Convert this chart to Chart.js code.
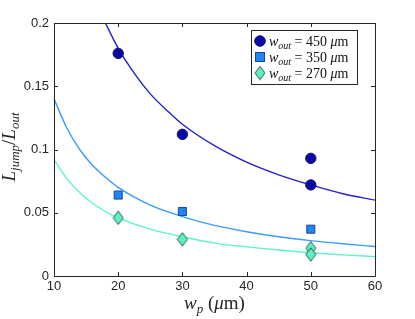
<!DOCTYPE html>
<html>
<head>
<meta charset="utf-8">
<script src="https://cdn.jsdelivr.net/npm/chart.js@4"></script>
<style>
html,body{margin:0;padding:0;background:#fff;}
#wrap{width:415px;height:319px;position:relative;}
</style>
</head>
<body>
<div id="wrap"><canvas id="c" width="415" height="319"></canvas></div>
<script>
// ---- data ----
const xTicks = [10, 20, 30, 40, 50, 60];
const yTicks = [0, 0.05, 0.1, 0.15, 0.2];

const wp450 = [20, 30, 50, 50];
const val450 = [0.176, 0.112, 0.093, 0.072];
const wp350 = [20, 30, 50];
const val350 = [0.064, 0.051, 0.037];
const wp270 = [20, 30, 50, 50];
const val270 = [0.046, 0.029, 0.022, 0.017];

const fitX450 = [18, 20, 22, 25, 28, 30, 35, 40, 45, 50, 55, 60];
const fitY450 = [0.2, 0.18, 0.164, 0.144, 0.129, 0.12, 0.103, 0.09, 0.08, 0.072, 0.065, 0.06];
const fitX350 = [10, 12, 14, 16, 18, 20, 25, 30, 35, 40, 45, 50, 55, 60];
const fitY350 = [0.14, 0.117, 0.1, 0.0875, 0.078, 0.07, 0.056, 0.047, 0.04, 0.035, 0.031, 0.028, 0.0255, 0.0233];
const fitX270 = [10, 12, 14, 16, 18, 20, 25, 30, 35, 40, 45, 50, 55, 60];
const fitY270 = [0.092, 0.077, 0.066, 0.0575, 0.051, 0.046, 0.037, 0.031, 0.026, 0.023, 0.0205, 0.0184, 0.0167, 0.0153];

const seriesLabels = ['450', '350', '270'];

function pts(xs, ys){ return xs.map((x,i)=>({x:x, y:ys[i]})); }

// diamond marker (taller than wide)
function makeDiamond(fill, stroke){
  const c = document.createElement('canvas');
  c.width = 12; c.height = 15;
  const g = c.getContext('2d');
  g.beginPath();
  g.moveTo(6, 0.8); g.lineTo(11, 7.5); g.lineTo(6, 14.2); g.lineTo(1, 7.5); g.closePath();
  g.fillStyle = fill; g.fill();
  g.lineWidth = 1; g.strokeStyle = stroke; g.stroke();
  return c;
}
const diamondImg = makeDiamond('#5cf2c2', '#2e5c52');

const C = {
  c450: '#0808a8', e450: '#10106a', l450: '#2222cc',
  c350: '#1e86f6', e350: '#1c4a86', l350: '#3a9cff',
  c270: '#5cf2c2', e270: '#2e5c52', l270: '#5cf5c9'
};

const PL = 54, PR = 375, PT = 23, PB = 276;

const boxPlugin = {
  id: 'boxPlugin',
  afterDatasetsDraw(chart){
    const ctx = chart.ctx, a = chart.chartArea;
    const xs = chart.scales.x, ys = chart.scales.y;
    ctx.save();
    ctx.strokeStyle = '#262626';
    ctx.lineWidth = 1;
    ctx.beginPath();
    ctx.rect(Math.round(a.left)+0.5, Math.round(a.top)+0.5, Math.round(a.right-a.left), Math.round(a.bottom-a.top));
    ctx.stroke();
    // inward ticks on all four sides
    const tl = 4;
    ctx.beginPath();
    xTicks.forEach(v=>{
      const px = Math.round(xs.getPixelForValue(v))+0.5;
      ctx.moveTo(px, a.bottom); ctx.lineTo(px, a.bottom - tl);
      ctx.moveTo(px, a.top); ctx.lineTo(px, a.top + tl);
    });
    yTicks.forEach(v=>{
      const py = Math.round(ys.getPixelForValue(v))+0.5;
      ctx.moveTo(a.left, py); ctx.lineTo(a.left + tl, py);
      ctx.moveTo(a.right, py); ctx.lineTo(a.right - tl, py);
    });
    ctx.stroke();
    ctx.restore();
  },
  afterDraw(chart){
    const ctx = chart.ctx, a = chart.chartArea;
    ctx.save();
    ctx.fillStyle = '#262626';
    ctx.textBaseline = 'alphabetic';
    const main = 'italic 19px "Liberation Serif", "DejaVu Serif", serif';
    const sub = 'italic 13px "Liberation Serif", "DejaVu Serif", serif';
    const up = '19px "Liberation Serif", "DejaVu Serif", serif';
    function runs(parts){
      let w = 0;
      parts.forEach(p=>{ ctx.font = p.f; w += ctx.measureText(p.t).width; });
      return w;
    }
    function drawRuns(parts, x, y){
      let cx = x;
      parts.forEach(p=>{ ctx.font = p.f; ctx.fillText(p.t, cx, y + (p.dy||0)); cx += ctx.measureText(p.t).width; });
    }
    // x axis title: w_p (μm)
    const xt = [{t:'w',f:main},{t:'p',f:sub,dy:4},{t:' (',f:up},{t:'μ',f:main},{t:'m)',f:up}];
    const xw = runs(xt);
    drawRuns(xt, (a.left + a.right)/2 - xw/2, 309);
    // y axis title: L_jump / L_out (rotated)
    const yt = [{t:'L',f:main},{t:'jump',f:sub,dy:4},{t:'/',f:up},{t:'L',f:main},{t:'out',f:sub,dy:4}];
    const yw = runs(yt);
    ctx.translate(15, 147);
    ctx.rotate(-Math.PI/2);
    drawRuns(yt, -yw/2, 0);
    ctx.setTransform(1,0,0,1,0,0);

    // legend
    const lx = 251, ly = 30, lw = 106, lh = 54;
    ctx.fillStyle = '#ffffff';
    ctx.fillRect(lx, ly, lw, lh);
    ctx.strokeStyle = '#262626';
    ctx.lineWidth = 1;
    ctx.strokeRect(lx+0.5, ly+0.5, lw, lh);
    const rows = [ly + 11, ly + 27, ly + 43];
    const lmain = 'italic 14px "Liberation Serif", "DejaVu Serif", serif';
    const lsub = 'italic 10px "Liberation Serif", "DejaVu Serif", serif';
    const lup = '14px "Liberation Serif", "DejaVu Serif", serif';
    let my = rows[0];
    ctx.beginPath(); ctx.arc(lx+9, my, 5.3, 0, Math.PI*2);
    ctx.fillStyle = C.c450; ctx.fill(); ctx.strokeStyle = C.e450; ctx.stroke();
    my = rows[1];
    ctx.fillStyle = C.c350; ctx.fillRect(lx+4.5, my-4.5, 9, 9);
    ctx.strokeStyle = C.e350; ctx.strokeRect(lx+4.5, my-4.5, 9, 9);
    my = rows[2];
    ctx.drawImage(diamondImg, lx+3, my-7.5);
    ctx.fillStyle = '#111';
    rows.forEach((ry, i)=>{
      const parts = [{t:'w',f:lmain},{t:'out',f:lsub,dy:3},{t:' = ' + seriesLabels[i] + ' ',f:lup},{t:'μ',f:lmain},{t:'m',f:lup}];
      drawRuns(parts, lx + 18, ry + 5);
    });
    ctx.restore();
  }
};

const ctx = document.getElementById('c').getContext('2d');
new Chart(ctx, {
  type: 'scatter',
  data: {
    datasets: [
      { label: 'fit450', data: pts(fitX450, fitY450), showLine: true, borderColor: C.l450, borderWidth: 1.4, pointRadius: 0, cubicInterpolationMode: 'monotone', fill: false, order: 5 },
      { label: 'fit350', data: pts(fitX350, fitY350), showLine: true, borderColor: C.l350, borderWidth: 1.4, pointRadius: 0, cubicInterpolationMode: 'monotone', fill: false, order: 5 },
      { label: 'fit270', data: pts(fitX270, fitY270), showLine: true, borderColor: C.l270, borderWidth: 1.4, pointRadius: 0, cubicInterpolationMode: 'monotone', fill: false, order: 5 },
      { label: 'w_out = 450 μm', data: pts(wp450, val450), pointStyle: 'circle', pointRadius: 5.2, backgroundColor: C.c450, borderColor: C.e450, borderWidth: 1, order: 1 },
      { label: 'w_out = 350 μm', data: pts(wp350, val350), pointStyle: 'rect', pointRadius: 5.7, backgroundColor: C.c350, borderColor: C.e350, borderWidth: 1, order: 1 },
      { label: 'w_out = 270 μm', data: pts(wp270, val270), pointStyle: diamondImg, pointRadius: 6, backgroundColor: C.c270, borderColor: C.e270, borderWidth: 1, order: 1 }
    ]
  },
  options: {
    responsive: false,
    animation: false,
    clip: false,
    layout: { padding: { left: 0, top: PT, right: 415 - PR, bottom: 0 } },
    plugins: { legend: { display: false }, tooltip: { enabled: false } },
    scales: {
      x: {
        type: 'linear', min: 10, max: 60,
        afterBuildTicks(s){ s.ticks = xTicks.map(v=>({value:v})); },
        afterFit(s){ s.height = 319 - PB; },
        grid: { display: false, drawTicks: false },
        border: { display: false },
        ticks: { padding: 3, color: '#262626', font: { family: '"Liberation Sans", Arial, sans-serif', size: 13 }, maxRotation: 0 }
      },
      y: {
        type: 'linear', min: 0, max: 0.2,
        afterBuildTicks(s){ s.ticks = yTicks.map(v=>({value:v})); },
        afterFit(s){ s.width = PL; },
        grid: { display: false, drawTicks: false },
        border: { display: false },
        ticks: { padding: 5, color: '#262626', font: { family: '"Liberation Sans", Arial, sans-serif', size: 13 },
          callback(v){ return String(Math.round(v*100)/100); } }
      }
    }
  },
  plugins: [boxPlugin]
});
</script>
</body>
</html>
